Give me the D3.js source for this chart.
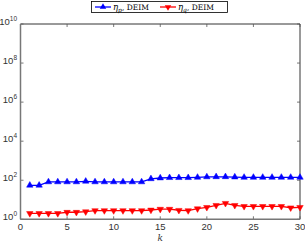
<!DOCTYPE html>
<html>
<head>
<meta charset="utf-8">
<script src="https://cdn.jsdelivr.net/npm/d3@7"></script>
<style>
  body { margin: 0; background: #fff; }
  svg text { font-family: "Liberation Sans", Arial, sans-serif; }
</style>
</head>
<body>
<svg id="chart" width="305" height="242"></svg>
<script>
// data
var ks = d3.range(1, 31);
var etaP = [55, 55, 82, 82, 82, 82, 88, 82, 82, 82, 82, 82, 82, 118, 130, 135, 135, 135, 140, 148, 150, 150, 145, 140, 140, 140, 140, 140, 140, 140];
var etaQ = [2.0, 2.0, 2.0, 2.0, 2.3, 2.3, 2.45, 2.8, 2.8, 2.8, 2.8, 2.8, 2.8, 3.0, 3.3, 3.3, 2.9, 2.8, 3.5, 4.1, 5.2, 6.6, 5.2, 4.6, 4.6, 4.6, 4.6, 4.6, 3.9, 4.1];
var xTicks = [0, 5, 10, 15, 20, 25, 30];
var yExps = [0, 2, 4, 6, 8, 10];
var seriesNames = ['p', 'q'];
var seriesColors = ['#0000ff', '#ff0000'];

var svg = d3.select('#chart');
// plot box (note: "top" is taken by window.top, so use other names)
var plotL = 20.5, plotR = 300, plotT = 24, plotB = 219.3;

var x = d3.scaleLinear().domain([0, 30]).range([plotL, plotR]);
var y = d3.scaleLog().domain([1, 1e10]).range([plotB, plotT]);

// box (top and right black, axes gray)
svg.append('line').attr('x1', plotL).attr('x2', plotR).attr('y1', plotT).attr('y2', plotT)
  .attr('stroke', '#000').attr('stroke-width', 0.8);
svg.append('line').attr('x1', plotR).attr('x2', plotR).attr('y1', plotT).attr('y2', plotB)
  .attr('stroke', '#000').attr('stroke-width', 0.8);

// x ticks, inside, bottom and top
var gx = svg.append('g');
xTicks.forEach(function(t) {
  gx.append('line').attr('x1', x(t)).attr('x2', x(t)).attr('y1', plotB).attr('y2', plotB - 3)
    .attr('stroke', '#555').attr('stroke-width', 0.8);
  gx.append('line').attr('x1', x(t)).attr('x2', x(t)).attr('y1', plotT).attr('y2', plotT + 3)
    .attr('stroke', '#555').attr('stroke-width', 0.8);
  gx.append('text').attr('x', x(t)).attr('y', plotB + 10.5)
    .attr('text-anchor', 'middle').attr('font-size', 9.5).attr('fill', '#333').text(t);
});

// y ticks
var gy = svg.append('g');
yExps.forEach(function(e) {
  var yy = y(Math.pow(10, e));
  gy.append('line').attr('x1', plotL).attr('x2', plotL + 3).attr('y1', yy).attr('y2', yy)
    .attr('stroke', '#555').attr('stroke-width', 0.8);
  gy.append('line').attr('x1', plotR).attr('x2', plotR - 3).attr('y1', yy).attr('y2', yy)
    .attr('stroke', '#555').attr('stroke-width', 0.8);
  var t = gy.append('text').attr('x', 17).attr('y', yy + 1)
    .attr('text-anchor', 'end').attr('font-size', 9.5).attr('fill', '#333');
  t.append('tspan').text('10');
  t.append('tspan').attr('dy', -4).attr('font-size', 6.5).text(e);
});

// axis lines
svg.append('line').attr('x1', plotL).attr('x2', plotL).attr('y1', plotT).attr('y2', plotB)
  .attr('stroke', '#777').attr('stroke-width', 1.5);
svg.append('line').attr('x1', plotL).attr('x2', plotR).attr('y1', plotB).attr('y2', plotB)
  .attr('stroke', '#777').attr('stroke-width', 1.5);

// x label
svg.append('text').attr('x', x(15)).attr('y', 240.5).attr('text-anchor', 'middle')
  .attr('font-size', 9).attr('font-style', 'italic').attr('fill', '#333')
  .style('font-family', '"DejaVu Serif", serif').text('k');

var up = d3.symbol().type(d3.symbolTriangle).size(18);

function drawSeries(vals, color, pointUp) {
  var line = d3.line().x(function(d, i) { return x(ks[i]); }).y(function(d) { return y(d); });
  svg.append('path').datum(vals).attr('d', line)
    .attr('fill', 'none').attr('stroke', color).attr('stroke-width', 1.3);
  svg.append('g').selectAll('path').data(vals).enter().append('path')
    .attr('d', up)
    .attr('transform', function(d, i) {
      return 'translate(' + x(ks[i]) + ',' + y(d) + ')' + (pointUp ? '' : ' rotate(180)');
    })
    .attr('fill', color).attr('stroke', color).attr('stroke-width', 0.5);
}

drawSeries(etaP, seriesColors[0], true);
drawSeries(etaQ, seriesColors[1], false);

// legend
var lg = svg.append('g');
lg.append('rect').attr('x', 91.5).attr('y', 1.5).attr('width', 136).attr('height', 11)
  .attr('fill', '#fff').attr('stroke', '#000').attr('stroke-width', 0.8);
var legendX = [95, 160];
seriesNames.forEach(function(s, i) {
  var lx = legendX[i];
  lg.append('line').attr('x1', lx).attr('x2', lx + 16).attr('y1', 7).attr('y2', 7)
    .attr('stroke', seriesColors[i]).attr('stroke-width', 1.3);
  lg.append('path').attr('d', up)
    .attr('transform', 'translate(' + (lx + 8) + ',7)' + (i === 0 ? '' : ' rotate(180)'))
    .attr('fill', seriesColors[i]);
  var t = lg.append('text').attr('x', lx + 18).attr('y', 10)
    .attr('font-size', 8.5).attr('fill', '#000')
    .style('font-family', '"DejaVu Serif", serif');
  t.append('tspan').attr('font-style', 'italic').text('η');
  t.append('tspan').attr('dy', 2).attr('font-size', 6).attr('font-style', 'italic').text(s);
  t.append('tspan').attr('dy', -2).attr('font-size', 7.5).text(', DEIM');
});
</script>
</body>
</html>
